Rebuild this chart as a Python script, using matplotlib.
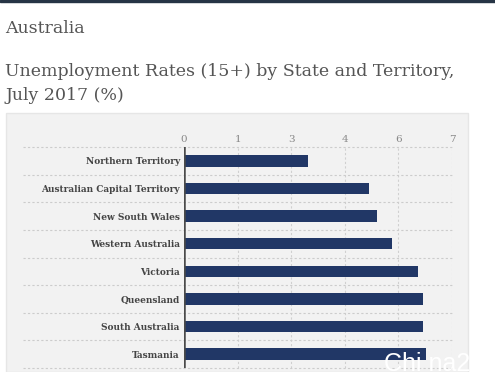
import numpy as np
import matplotlib.pyplot as plt
from matplotlib.patches import Rectangle

states = ['Northern Territory', 'Australian Capital Territory', 'New South Wales',
          'Western Australia', 'Victoria', 'Queensland', 'South Australia', 'Tasmania']
rates = [3.23, 4.83, 5.03, 5.44, 6.12, 6.23, 6.23, 6.33]
ticks = [0, 1.4, 2.8, 4.2, 5.6, 7.0]

serif = 'DejaVu Serif'

fig = plt.figure(figsize=(4.95, 3.72), dpi=100)
fig.patch.set_facecolor('white')

# dark strip on top and grey chart panel
fig.patches.append(Rectangle((0, 0.994), 1, 0.006, transform=fig.transFigure,
                             color='#263445', zorder=-2))
fig.patches.append(Rectangle((6 / 495, 0), 462 / 495, 259 / 372, transform=fig.transFigure,
                             facecolor='#f2f2f2', edgecolor='#e6e6e6', zorder=-2))

fig.text(5 / 495, 1 - 33 / 372, 'Australia', family=serif, fontsize=12.5,
         color='#555555', va='baseline')
fig.text(5 / 495, 1 - 76 / 372, 'Unemployment Rates (15+) by State and Territory,',
         family=serif, fontsize=12.5, color='#555555', va='baseline')
fig.text(5 / 495, 1 - 100 / 372, 'July 2017 (%)', family=serif, fontsize=12.5,
         color='#555555', va='baseline')

ax = fig.add_axes([184 / 495, 4 / 372, 268 / 495, 221 / 372])
ax.set_facecolor('none')
y = np.arange(len(states))
ax.barh(y, rates, height=0.42, color='#213766', zorder=3)
ax.set_xlim(0, 7)
ax.set_ylim(len(states) - 0.5, -0.5)

ax.xaxis.tick_top()
ax.set_xticks(ticks)
ax.set_xticklabels([f'{t:.0f}' for t in ticks], family=serif, fontsize=7.5, color='#888888')
ax.tick_params(axis='x', length=0, pad=2)
ax.set_yticks(y)
ax.set_yticklabels(states, family=serif, fontsize=6.5, fontweight='bold', color='#444444')
ax.tick_params(axis='y', length=0, pad=3)

for s in ax.spines.values():
    s.set_visible(False)
ax.axvline(0, color='#4a4a4a', lw=1.8, zorder=4)

# dashed grid
for t in ticks:
    ax.axvline(t, color='#d0d0d0', lw=0.8, ls=(0, (2, 2)), zorder=1)
for b in np.arange(len(states) + 1) - 0.5:
    ax.plot([-4.2, 7], [b, b], color='#cccccc', lw=0.8, ls=(0, (2, 2)),
            zorder=1, clip_on=False)

fig.text(384 / 495, 1 / 372, 'Chi na2a', family='Liberation Sans', fontsize=18,
         color='white', va='baseline', zorder=10)

fig.savefig('out.png', dpi=100)
